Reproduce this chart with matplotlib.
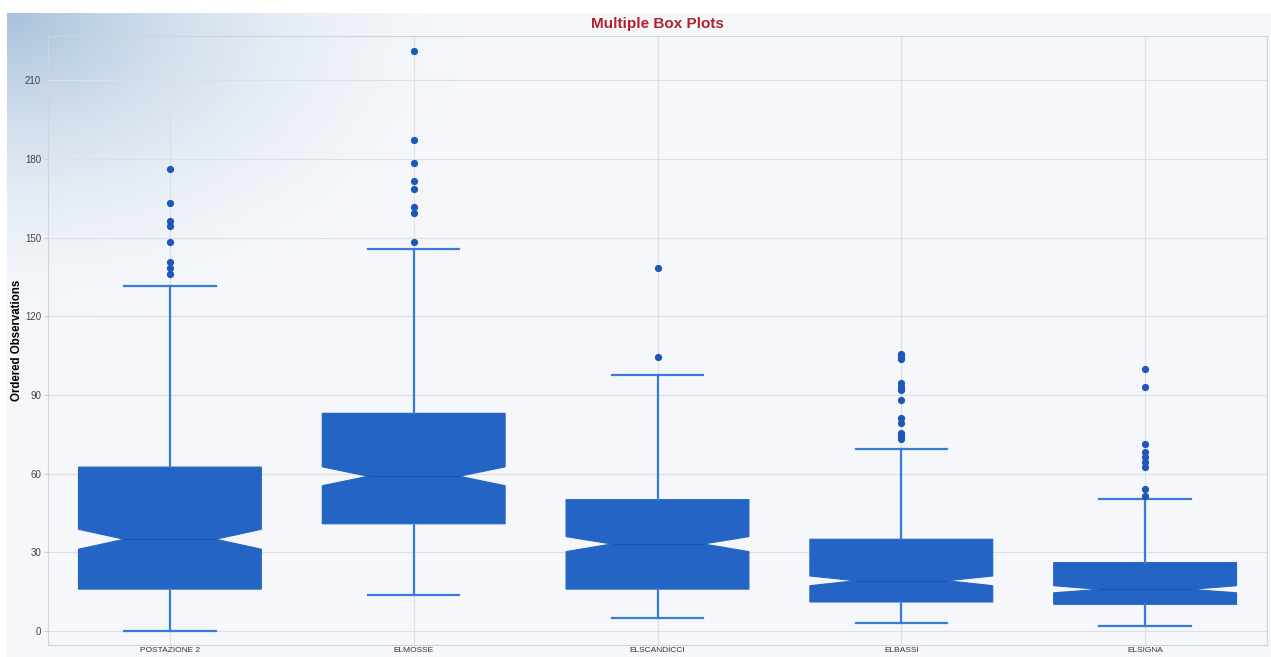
import numpy as np
import matplotlib
matplotlib.use("Agg")
import matplotlib.pyplot as plt

# Summary statistics for each monitoring station
categories = ["POSTAZIONE 2", "ELMOSSE", "ELSCANDICCI", "ELBASSI", "ELSIGNA"]
q1 = [16.0, 40.9, 16.0, 11.1, 10.2]
median = [35.0, 59.0, 33.2, 19.2, 15.9]
q3 = [62.5, 83.0, 50.1, 35.0, 26.1]
whisker_low = [0.0, 13.7, 5.0, 2.9, 2.0]
whisker_high = [131.6, 145.5, 97.5, 69.4, 50.3]
notch_low = [31.2, 55.4, 30.3, 17.3, 14.6]
notch_high = [38.8, 62.6, 36.0, 21.0, 17.3]
outliers_postazione2 = [176.3, 163.0, 156.4, 154.3, 148.1, 140.5, 138.3, 136.0]
outliers_elmosse = [221.2, 187.1, 178.3, 171.4, 168.3, 161.6, 159.5, 148.1]
outliers_elscandicci = [138.3, 104.4]
outliers_elbassi = [105.5, 104.6, 103.7, 94.5, 93.2, 92.0, 88.1, 81.1, 79.4,
                    75.4, 74.4, 73.1]
outliers_elsigna = [100.0, 93.2, 71.2, 68.4, 66.5, 64.6, 62.7, 54.0, 51.5]
outliers = [outliers_postazione2, outliers_elmosse, outliers_elscandicci,
            outliers_elbassi, outliers_elsigna]
y_ticks = [0, 30, 60, 90, 120, 150, 180, 210]

plt.rcParams["font.family"] = ["Liberation Sans", "DejaVu Sans"]

W, H = 1271, 657
fig = plt.figure(figsize=(W / 100, H / 100), dpi=100, facecolor="white")

# soft blue wash in the top-left corner of the panel
bg = fig.add_axes([7 / W, 0, 1 - 7 / W, 1 - 13 / H], zorder=-10)
gx, gy = np.meshgrid(np.linspace(0, 1, 400), np.linspace(0, 1, 220))
d = np.sqrt((gx * (W - 7) / 480) ** 2 + (gy * (H - 13) / 320) ** 2)
w = np.clip(1 - d, 0, 1) ** 1.8
base = np.array([0.962, 0.970, 0.984])
corner = np.array([0.66, 0.76, 0.86])
img = base[None, None, :] * (1 - w[..., None]) + corner[None, None, :] * w[..., None]
bg.imshow(img, aspect="auto", extent=(0, 1, 1, 0), interpolation="bilinear")
bg.set_xlim(0, 1)
bg.set_ylim(1, 0)
bg.axis("off")

ax = fig.add_axes([48 / W, 1 - 645 / H, (1267 - 48) / W, (645 - 36) / H])
ax.patch.set_alpha(0)

stats = []
for i, name in enumerate(categories):
    stats.append(dict(label=name, med=median[i], q1=q1[i], q3=q3[i],
                      whislo=whisker_low[i], whishi=whisker_high[i],
                      cilo=notch_low[i], cihi=notch_high[i],
                      fliers=outliers[i]))

box_color = "#2464C4"
line_color = "#3A7BDA"
ax.bxp(stats, positions=range(len(categories)), widths=0.75, capwidths=0.375,
       shownotches=True, patch_artist=True, showfliers=True,
       boxprops=dict(facecolor=box_color, edgecolor=box_color, linewidth=0.8),
       medianprops=dict(color="#1E55AC", linewidth=1.0),
       whiskerprops=dict(color=line_color, linewidth=1.6),
       capprops=dict(color=line_color, linewidth=1.6),
       flierprops=dict(marker="o", markersize=4.2, markerfacecolor="#1F57B9",
                       markeredgecolor="#1F57B9", linestyle="none"))

ax.set_xlim(-0.5, len(categories) - 0.5)
ax.set_ylim(-5.3, 226.8)
ax.set_yticks(y_ticks)
ax.set_yticklabels([str(t) for t in y_ticks])
ax.set_xticks(range(len(categories)))
ax.set_xticklabels(categories)
ax.tick_params(axis="y", labelsize=7, colors="#C9CDD4", labelcolor="#444444",
               length=3, width=0.8, pad=2)
ax.tick_params(axis="x", labelsize=6, colors="#C9CDD4", labelcolor="#333333",
               length=0, pad=1.5)
ax.grid(True, color="#DCDFE5", linewidth=0.8)
ax.set_axisbelow(True)
for s in ax.spines.values():
    s.set_color("#D0D4DA")
    s.set_linewidth(0.8)

ax.set_title("Multiple Box Plots", color="#B0222C", fontsize=11,
             fontweight="bold", pad=6)
ax.set_ylabel("Ordered Observations", fontsize=8.3, fontweight="bold",
              color="black")
ax.yaxis.set_label_coords(-0.0205, 0.5)

fig.savefig("out.png", dpi=100, facecolor="white")
